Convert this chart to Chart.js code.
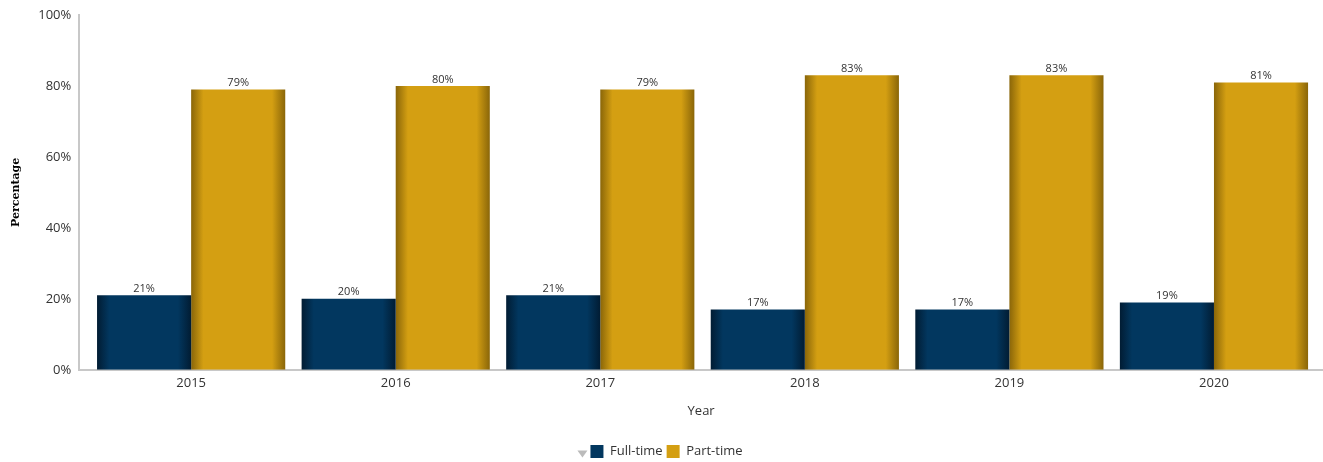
<!DOCTYPE html>
<html lang="en">
<head>
  <meta charset="UTF-8" />
  <title>Full-time vs Part-time by Year</title>
  <script src="https://cdn.jsdelivr.net/npm/chart.js"></script>
  <style>
    html, body { margin: 0; padding: 0; background: #fff; }
    #wrap { width: 1323px; height: 462px; }
  </style>
</head>
<body>
  <div id="wrap"><canvas id="chart" width="1323" height="462"></canvas></div>

  <script>
    const years = [2015, 2016, 2017, 2018, 2019, 2020];
    const fullTime = [21, 20, 21, 17, 17, 19];
    const partTime = [79, 80, 79, 83, 83, 81];
    const yTicks = [0, 20, 40, 60, 80, 100];
    const seriesColors = ['#02375f', '#d49f12'];

    const CAT_PCT = 0.92;
    const FONT = "'Open Sans', 'DejaVu Sans', sans-serif";

    // shaded bar: darker at both edges, like the original
    function shade(base, dark) {
      return function (c) {
        const chart = c.chart;
        const xs = chart.scales.x;
        if (c.type !== 'data' || !xs || !xs.width) return base;
        const step = xs.getPixelForValue(years[1]) - xs.getPixelForValue(years[0]);
        const barW = step * CAT_PCT / 2;
        const center = xs.getPixelForValue(years[c.dataIndex]);
        const left = c.datasetIndex === 0 ? center - barW : center;
        const g = chart.ctx.createLinearGradient(left, 0, left + barW, 0);
        g.addColorStop(0, dark);
        g.addColorStop(0.13, base);
        g.addColorStop(0.86, base);
        g.addColorStop(1, dark);
        return g;
      };
    }

    const valueLabels = {
      id: 'valueLabels',
      afterDatasetsDraw(chart) {
        const ctx = chart.ctx;
        ctx.save();
        ctx.font = '11px ' + FONT;
        ctx.fillStyle = '#333';
        ctx.textAlign = 'center';
        ctx.textBaseline = 'bottom';
        chart.data.datasets.forEach((ds, i) => {
          chart.getDatasetMeta(i).data.forEach((bar, j) => {
            ctx.fillText(ds.data[j] + '%', bar.x, bar.y - 1);
          });
        });
        ctx.restore();
      }
    };

    // little grey pager arrow left of the legend
    const legendArrow = {
      id: 'legendArrow',
      afterDraw(chart) {
        const hb = chart.legend && chart.legend.legendHitBoxes;
        if (!hb || !hb.length) return;
        const ctx = chart.ctx;
        const x = hb[0].left - 8, y = hb[0].top + hb[0].height / 2 + 2;
        ctx.save();
        ctx.fillStyle = '#bbb';
        ctx.beginPath();
        ctx.moveTo(x - 5, y - 3);
        ctx.lineTo(x + 5, y - 3);
        ctx.lineTo(x, y + 4);
        ctx.closePath();
        ctx.fill();
        ctx.restore();
      }
    };

    new Chart(document.getElementById('chart'), {
      type: 'bar',
      data: {
        labels: years,
        datasets: [
          {
            label: 'Full-time',
            data: fullTime,
            backgroundColor: shade(seriesColors[0], '#011c33'),
            categoryPercentage: CAT_PCT,
            barPercentage: 1
          },
          {
            label: 'Part-time',
            data: partTime,
            backgroundColor: shade(seriesColors[1], '#8a6609'),
            categoryPercentage: CAT_PCT,
            barPercentage: 1
          }
        ]
      },
      options: {
        responsive: false,
        animation: false,
        layout: { padding: { left: 10, right: 0, top: 15, bottom: -6 } },
        scales: {
          x: {
            type: 'linear',
            min: 2014.453,
            max: 2020.533,
            offset: false,
            afterBuildTicks(axis) { axis.ticks = years.map(v => ({ value: v })); },
            grid: { display: false, drawTicks: false },
            border: { color: '#c8c8c8', width: 2 },
            ticks: { color: '#333', font: { family: FONT, size: 13 }, padding: 6, callback: v => String(v) },
            title: { display: true, text: 'Year', color: '#333', font: { family: FONT, size: 13 }, padding: { top: 6, bottom: 22 } }
          },
          y: {
            min: 0,
            max: 100,
            afterBuildTicks(axis) { axis.ticks = yTicks.map(v => ({ value: v })); },
            grid: { display: false, drawOnChartArea: false, drawTicks: true, tickLength: 5, tickColor: '#c8c8c8' },
            border: { color: '#c8c8c8', width: 2 },
            ticks: { color: '#333', font: { family: FONT, size: 13 }, padding: 3, callback: v => v + '%' },
            title: { display: true, text: 'Percentage', color: '#000', font: { family: "'DejaVu Serif', serif", size: 11, weight: 'bold' }, padding: { top: 0, bottom: 12 } }
          }
        },
        plugins: {
          legend: {
            position: 'bottom',
            labels: {
              color: '#333',
              font: { family: FONT, size: 13 },
              boxWidth: 13,
              boxHeight: 13,
              padding: 4,
              generateLabels(chart) {
                return Chart.defaults.plugins.legend.labels.generateLabels(chart).map((l, i) => {
                  l.fillStyle = seriesColors[i];
                  l.strokeStyle = seriesColors[i];
                  l.lineWidth = 0;
                  return l;
                });
              }
            }
          },
          tooltip: { enabled: false }
        }
      },
      plugins: [valueLabels, legendArrow]
    });
  </script>
</body>
</html>
